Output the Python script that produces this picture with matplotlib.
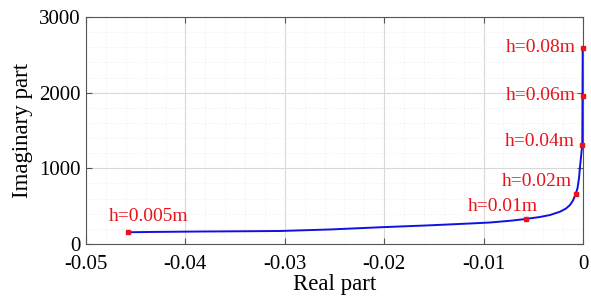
import matplotlib

matplotlib.use("Agg")
import matplotlib.pyplot as plt
from matplotlib.ticker import MultipleLocator

# root locus style curve
real_part = [-0.04574, -0.04356, -0.03853, -0.03350, -0.03048, -0.02545, -0.02042,
             -0.01539, -0.01137, -0.00936, -0.00734, -0.00577, -0.00433, -0.00332,
             -0.00231, -0.00171, -0.00131, -0.00101, -0.00074, -0.00055, -0.00040,
             -0.00030, -0.00020, -0.00013, -0.00007, -0.00005, -0.00003]
imag_part = [155, 159, 165, 169, 172, 192, 221, 247, 271, 284, 307, 330, 357, 383,
             427, 469, 515, 575, 657, 740, 872, 1022, 1150, 1242, 1308, 1956, 2586]

# marked thicknesses
h_labels = ["h=0.005m", "h=0.01m", "h=0.02m", "h=0.04m", "h=0.06m", "h=0.08m"]
h_real = [-0.04574, -0.00577, -0.00074, -0.00007, -0.00005, -0.00003]
h_imag = [155, 330, 657, 1308, 1956, 2586]

x_ticks = [-0.05, -0.04, -0.03, -0.02, -0.01, 0]
x_ticklabels = ["-0.05", "-0.04", "-0.03", "-0.02", "-0.01", "0"]
y_ticks = [0, 1000, 2000, 3000]

plt.rcParams["font.family"] = ["Liberation Serif", "DejaVu Serif"]
plt.rcParams["axes.unicode_minus"] = False

fig = plt.figure(figsize=(5.91, 3.01), dpi=100)
fig.subplots_adjust(left=86 / 591, right=583 / 591, bottom=57 / 301, top=284 / 301)
ax = fig.add_subplot(111)

ax.plot(real_part, imag_part, color="#1010e0", lw=1.4, zorder=3,
        solid_joinstyle="round")
ax.plot(h_real, h_imag, "s", color="#e8141c", ms=3.5, zorder=4, clip_on=False)

# label offsets in pixels (dx, dy, ha)
offsets = [(-20, 16, "left"), (12, 13, "right"), (-4, 13, "right"),
           (-7, 4, "right"), (-7, 0, "right"), (-7, 1, "right")]
for lab, xv, yv, (dx, dy, ha) in zip(h_labels, h_real, h_imag, offsets):
    ax.annotate(lab, (xv, yv), xytext=(dx, dy), textcoords="offset pixels",
                ha=ha, va="center", color="#e8141c", fontsize=14)

ax.set_xlim(-0.05, 0)
ax.set_ylim(0, 3000)
ax.set_xticks(x_ticks)
ax.set_xticklabels(x_ticklabels)
ax.set_yticks(y_ticks)
ax.xaxis.set_minor_locator(MultipleLocator(0.002))
ax.yaxis.set_minor_locator(MultipleLocator(200))

ax.grid(which="major", color="#d8d8d8", lw=0.8)
ax.grid(which="minor", color="#ececec", lw=0.6, ls=":")
ax.set_axisbelow(True)

ax.tick_params(which="both", direction="in", top=True, right=True, labelsize=15,
               color="#555555")
ax.tick_params(axis="x", pad=8)
ax.tick_params(axis="y", pad=4)
ax.tick_params(which="minor", length=0)
ax.tick_params(which="major", length=4)
for s in ax.spines.values():
    s.set_color("#555555")
    s.set_linewidth(0.8)

ax.set_xlabel("Real part", fontsize=16.5, labelpad=0)
ax.set_ylabel("Imaginary part", fontsize=16.5, labelpad=4)

fig.savefig("out.png", dpi=100)
